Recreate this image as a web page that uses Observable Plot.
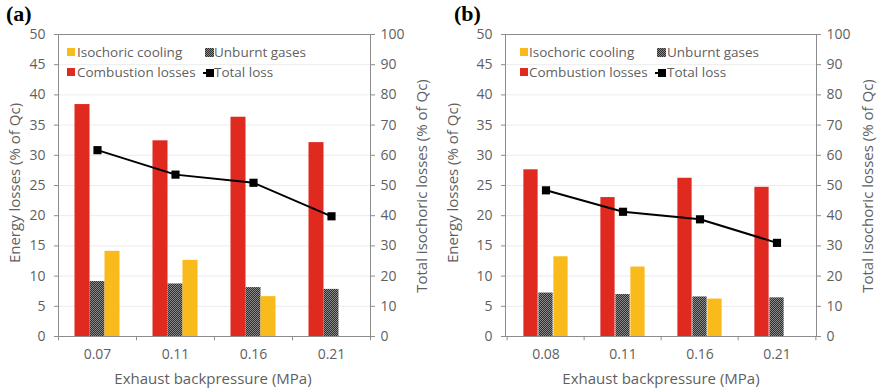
<!DOCTYPE html>
<html>
<head>
<meta charset="utf-8">
<script src="https://cdn.jsdelivr.net/npm/d3@7"></script>
<script src="https://cdn.jsdelivr.net/npm/@observablehq/plot@0.6"></script>
<style>
  html, body { margin: 0; padding: 0; background: #fff; }
  #root { position: relative; width: 877px; height: 391px; overflow: hidden; font-family: "Open Sans", sans-serif; color: #5f5f5f; }
  .panel { position: absolute; top: 0; }
  .t { position: absolute; white-space: nowrap; transform: translateY(-50%); line-height: 1; }
  .sw { position: absolute; width: 8px; height: 8px; }
  .plabel { position: absolute; font-family: "Liberation Serif", serif; font-weight: bold; font-size: 22px; color: #000; }
  .vt { position: absolute; white-space: nowrap; font-size: 15px; transform: translate(-50%, -50%) rotate(-90deg); line-height: 1; }
  .xt { position: absolute; white-space: nowrap; font-size: 15px; transform: translate(-50%, -50%); line-height: 1; }
</style>
</head>
<body>
<div id="root"></div>
<script>
// ---- data ----
const catsA = ["0.07", "0.11", "0.16", "0.21"];
const combustionA = [38.4, 32.4, 36.3, 32.1];
const unburntA = [9.1, 8.7, 8.1, 7.8];
const isochoricA = [14.1, 12.6, 6.6, 0];
const totalA = [61.7, 53.6, 50.9, 39.8];

const catsB = ["0.08", "0.11", "0.16", "0.21"];
const combustionB = [27.6, 23.0, 26.2, 24.7];
const unburntB = [7.2, 6.95, 6.55, 6.4];
const isochoricB = [13.2, 11.5, 6.2, 0];
const totalB = [48.4, 41.3, 38.8, 31.0];

const leftTicks = [0, 5, 10, 15, 20, 25, 30, 35, 40, 45, 50];

const RED = "#e0291f", YELLOW = "#f9ba1b", AXIS = "#8c8c8c", TEXT = "#5f5f5f", HATCH = "#3c3c3d";

function panel(cats, comb, unb, iso, tot, opt) {
  const rows = cats.map((c, i) => ({cat: c, comb: comb[i], unb: unb[i], iso: iso[i], tot: tot[i]}));
  const W = opt.width, ml = opt.ml, mr = opt.mr;
  const bw = (W - ml - mr) / cats.length;
  const h = bw / 2;
  const svg = Plot.plot({
    width: W, height: 391,
    marginLeft: ml, marginRight: mr, marginTop: 34, marginBottom: 55,
    style: {fontFamily: "Open Sans", fontSize: "14px", color: TEXT, background: "transparent"},
    x: {type: "band", domain: cats, padding: 0, label: null},
    y: {domain: [0, 50], label: null},
    marks: [
      Plot.gridY(leftTicks.slice(1, -1), {stroke: "#ececec", strokeOpacity: 1}),
      Plot.barY(rows, {x: "cat", y: "comb", fill: RED, insetLeft: h - 22.5, insetRight: h + 7.5}),
      Plot.barY(rows, {x: "cat", y: "unb", fill: HATCH, insetLeft: h - 7.5, insetRight: h - 7.5}),
      Plot.barY(rows, {x: "cat", y: "iso", fill: YELLOW, insetLeft: h + 7.5, insetRight: h - 22.5}),
      Plot.frame({stroke: AXIS}),
      Plot.axisY({anchor: "left", ticks: leftTicks, tickSize: 4, tickPadding: 9, stroke: AXIS, fill: TEXT, label: null}),
      Plot.axisY({anchor: "right", ticks: leftTicks, tickSize: 4, tickPadding: 6, stroke: AXIS, fill: TEXT, label: null, tickFormat: d => d * 2}),
      Plot.axisX({tickSize: 0, tickPadding: 13, fill: TEXT, label: null}),
      Plot.ruleX(cats, {x: d => d, y1: 0, y2: -0.7, dx: -h, stroke: AXIS}),
      Plot.ruleX(cats.slice(-1), {x: d => d, y1: 0, y2: -0.7, dx: h, stroke: AXIS}),
      Plot.line(rows, {x: "cat", y: d => d.tot / 2, stroke: "#000", strokeWidth: 2}),
      Plot.dot(rows, {x: "cat", y: d => d.tot / 2, symbol: "square", r: 4.6, fill: "#000", stroke: null})
    ]
  });
  // hatch pattern for unburnt gases
  const ns = "http://www.w3.org/2000/svg";
  const defs = document.createElementNS(ns, "defs");
  defs.innerHTML = `<pattern id="hatch${opt.id}" patternUnits="userSpaceOnUse" width="2" height="2">
      <rect width="2" height="2" fill="#2e2e2e"/>
      <rect x="0" y="0" width="1" height="1" fill="#8a8a8a"/>
      <rect x="1" y="1" width="1" height="1" fill="#8a8a8a"/>
    </pattern>`;
  svg.insertBefore(defs, svg.firstChild);
  svg.querySelectorAll(`g[fill="${HATCH}"]`).forEach(g => {
    g.setAttribute("fill", `url(#hatch${opt.id})`);
    g.querySelectorAll("rect").forEach(r => r.removeAttribute("fill"));
  });
  return svg;
}

const root = document.getElementById("root");

function addPanel(svg, left) {
  const d = document.createElement("div");
  d.className = "panel";
  d.style.left = left + "px";
  d.appendChild(svg);
  root.appendChild(d);
}

addPanel(panel(catsA, combustionA, unburntA, isochoricA, totalA, {width: 438, ml: 58, mr: 68, id: "A"}), 0);
addPanel(panel(catsB, combustionB, unburntB, isochoricB, totalB, {width: 437, ml: 65, mr: 61, id: "B"}), 440);

function html(tag, cls, style, text) {
  const e = document.createElement(tag);
  e.className = cls;
  Object.assign(e.style, style);
  if (text != null) e.textContent = text;
  root.appendChild(e);
  return e;
}

const hatchCSS = "repeating-conic-gradient(#2e2e2e 0 25%, #8a8a8a 0 50%) 0 0 / 2px 2px";

function legend(o) {
  html("div", "sw", {left: o.x1 + "px", top: "48px", background: YELLOW});
  html("div", "t", {left: o.t1 + "px", top: "52.5px", fontSize: "13.5px"}, "Isochoric cooling");
  html("div", "sw", {left: o.x1 + "px", top: "68px", background: RED});
  html("div", "t", {left: o.t1 + "px", top: "72.5px", fontSize: "13.5px"}, "Combustion losses");
  html("div", "sw", {left: o.x2 + "px", top: "48px", width: "9px", height: "9px", background: hatchCSS});
  html("div", "t", {left: o.t2 + "px", top: "52.5px", fontSize: "13.5px"}, "Unburnt gases");
  html("div", "sw", {left: (o.x2 - 2) + "px", top: "72px", width: "11px", height: "2px", background: "#000"});
  html("div", "sw", {left: (o.x2 + 0.5) + "px", top: "69px", background: "#000"});
  html("div", "t", {left: o.t2 + "px", top: "72.5px", fontSize: "13.5px"}, "Total loss");
}
legend({x1: 67, t1: 77, x2: 205, t2: 214});
legend({x1: 520, t1: 529, x2: 657, t2: 667});

html("div", "plabel", {left: "6px", top: "1px"}, "(a)");
html("div", "plabel", {left: "454px", top: "1px"}, "(b)");

html("div", "vt", {left: "14px", top: "183px"}, "Energy losses (% of Qc)");
html("div", "vt", {left: "421px", top: "186px"}, "Total isochoric losses (% of Qc)");
html("div", "xt", {left: "213px", top: "378px"}, "Exhaust backpressure (MPa)");

html("div", "vt", {left: "452px", top: "183px"}, "Energy losses (% of Qc)");
html("div", "vt", {left: "867px", top: "186px"}, "Total isochoric losses (% of Qc)");
html("div", "xt", {left: "661px", top: "378px"}, "Exhaust backpressure (MPa)");
</script>
</body>
</html>
